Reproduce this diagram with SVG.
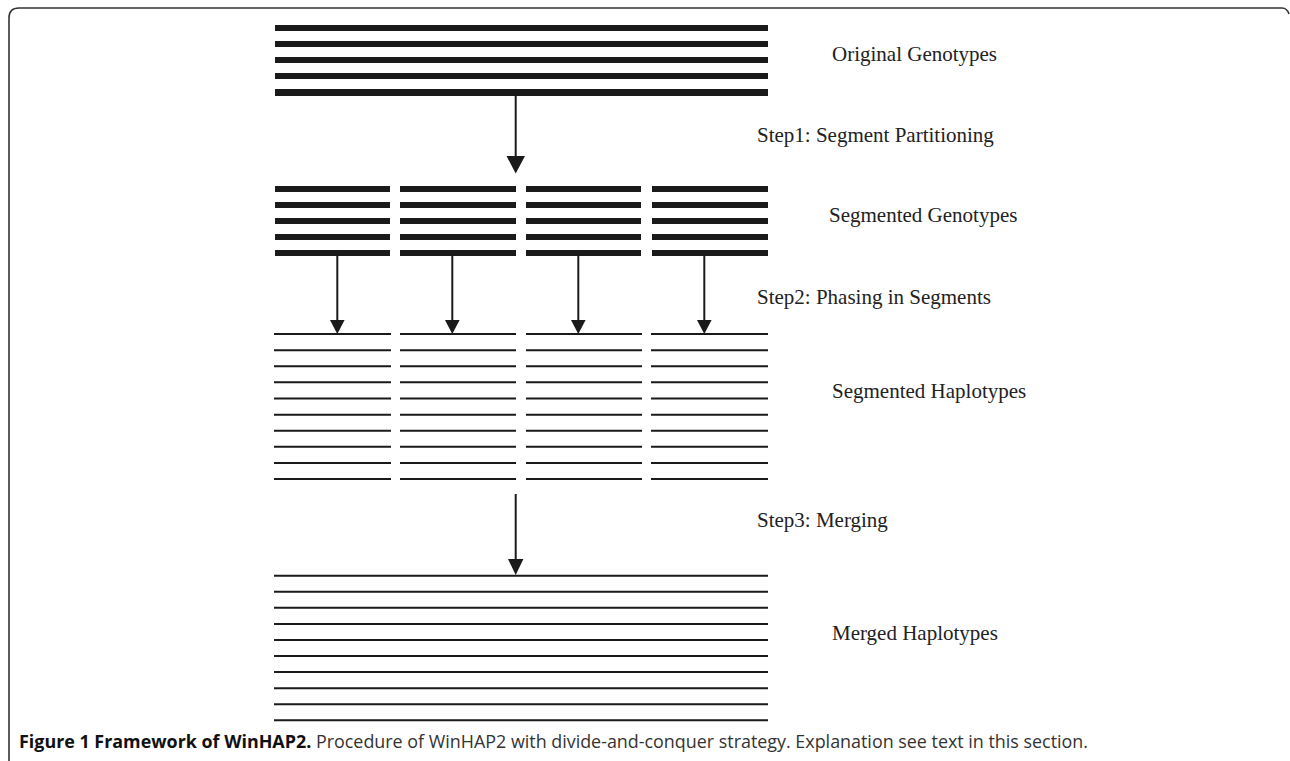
<svg xmlns="http://www.w3.org/2000/svg" width="1290" height="761" viewBox="0 0 1290 761">
<style>
.thick{stroke:#1a1a1a;stroke-width:6;fill:none}
.thin{stroke:#1a1a1a;stroke-width:2;fill:none}
.conn{stroke:#1a1a1a;stroke-width:2;fill:none}
.head{fill:#1a1a1a}
.lbl{font-family:"Liberation Serif","Times New Roman",serif;font-size:21px;fill:#222}
.cap{font-family:"Open Sans","Liberation Sans",sans-serif;font-size:17.9px;fill:#333}
.capb{font-weight:bold;fill:#111}
</style>
<rect width="1290" height="761" fill="#fff"/>
<path d="M9,761 V18 Q9,8 19,8 H1282 Q1287,8 1289,14" fill="none" stroke="#333" stroke-width="1.6"/>

<g id="original-genotypes">
<line class="thick" x1="275" y1="28" x2="768" y2="28"/>
<line class="thick" x1="275" y1="44" x2="768" y2="44"/>
<line class="thick" x1="275" y1="60" x2="768" y2="60"/>
<line class="thick" x1="275" y1="76" x2="768" y2="76"/>
<line class="thick" x1="275" y1="92.5" x2="768" y2="92.5" style="stroke-width:7"/>
<text class="lbl" x="832" y="61">Original Genotypes</text>
</g>

<g id="segmented-genotypes">
<line class="thick" x1="275" y1="189" x2="390" y2="189"/><line class="thick" x1="275" y1="205" x2="390" y2="205"/><line class="thick" x1="275" y1="221" x2="390" y2="221"/><line class="thick" x1="275" y1="237" x2="390" y2="237"/><line class="thick" x1="275" y1="253" x2="390" y2="253"/>
<line class="thick" x1="400" y1="189" x2="516" y2="189"/><line class="thick" x1="400" y1="205" x2="516" y2="205"/><line class="thick" x1="400" y1="221" x2="516" y2="221"/><line class="thick" x1="400" y1="237" x2="516" y2="237"/><line class="thick" x1="400" y1="253" x2="516" y2="253"/>
<line class="thick" x1="526" y1="189" x2="641" y2="189"/><line class="thick" x1="526" y1="205" x2="641" y2="205"/><line class="thick" x1="526" y1="221" x2="641" y2="221"/><line class="thick" x1="526" y1="237" x2="641" y2="237"/><line class="thick" x1="526" y1="253" x2="641" y2="253"/>
<line class="thick" x1="652" y1="189" x2="768" y2="189"/><line class="thick" x1="652" y1="205" x2="768" y2="205"/><line class="thick" x1="652" y1="221" x2="768" y2="221"/><line class="thick" x1="652" y1="237" x2="768" y2="237"/><line class="thick" x1="652" y1="253" x2="768" y2="253"/>
<text class="lbl" x="829" y="222">Segmented Genotypes</text>
</g>

<g id="segmented-haplotypes">
<path class="thin" d="M274,334H391M274,350.3H391M274,366.3H391M274,382.3H391M274,398.5H391M274,414.7H391M274,430.7H391M274,446.7H391M274,463H391M274,479H391
M400,334H516M400,350.3H516M400,366.3H516M400,382.3H516M400,398.5H516M400,414.7H516M400,430.7H516M400,446.7H516M400,463H516M400,479H516
M526,334H642M526,350.3H642M526,366.3H642M526,382.3H642M526,398.5H642M526,414.7H642M526,430.7H642M526,446.7H642M526,463H642M526,479H642
M651,334H768M651,350.3H768M651,366.3H768M651,382.3H768M651,398.5H768M651,414.7H768M651,430.7H768M651,446.7H768M651,463H768M651,479H768"/>
<text class="lbl" x="832" y="398">Segmented Haplotypes</text>
</g>

<g id="merged-haplotypes">
<path class="thin" d="M274,575.7H768M274,591.7H768M274,607.7H768M274,624H768M274,640H768M274,656H768M274,672H768M274,688.3H768M274,704.3H768M274,720.3H768"/>
<text class="lbl" x="832" y="640">Merged Haplotypes</text>
</g>

<g id="connectors">
<line class="conn" x1="515.7" y1="95" x2="515.7" y2="160"/>
<polygon class="head" points="506.5,156 525,156 515.7,173.5"/>
<text class="lbl" x="757" y="142">Step1: Segment Partitioning</text>

<line class="conn" x1="337.3" y1="255" x2="337.3" y2="322"/>
<polygon class="head" points="330,320 344.6,320 337.3,334"/>
<line class="conn" x1="452.3" y1="255" x2="452.3" y2="322"/>
<polygon class="head" points="445,320 459.6,320 452.3,334"/>
<line class="conn" x1="578.3" y1="255" x2="578.3" y2="322"/>
<polygon class="head" points="571,320 585.6,320 578.3,334"/>
<line class="conn" x1="704.3" y1="255" x2="704.3" y2="322"/>
<polygon class="head" points="697,320 711.6,320 704.3,334"/>
<text class="lbl" x="757" y="304">Step2: Phasing in Segments</text>

<line class="conn" x1="515.7" y1="494" x2="515.7" y2="562"/>
<polygon class="head" points="508,559 523.4,559 515.7,575"/>
<text class="lbl" x="757" y="527">Step3: Merging</text>
</g>

<text class="cap" x="19" y="748"><tspan class="capb">Figure 1 Framework of WinHAP2.</tspan> Procedure of WinHAP2 with divide-and-conquer strategy. Explanation see text in this section.</text>
</svg>
